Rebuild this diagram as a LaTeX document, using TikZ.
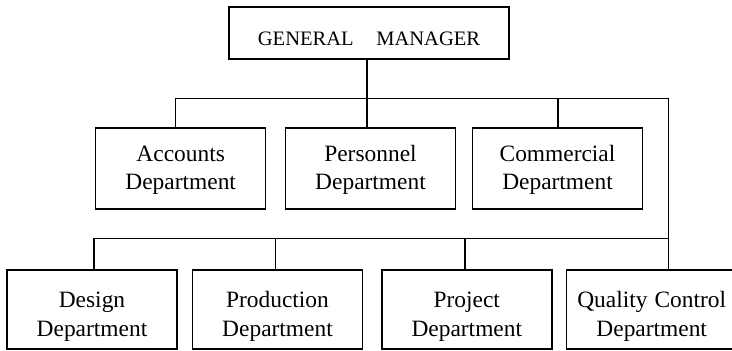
\documentclass[tikz,border=0pt]{standalone}
\usepackage{fontspec}
\setmainfont{Liberation Serif}
\newcommand{\rtwo}{\rule{0pt}{19bp}}
\newcommand{\rthree}{\rule{0pt}{29.5bp}}
\begin{document}
\begin{tikzpicture}[x=1bp,y=-1bp,
  box/.style={draw, line width=1.5bp, rectangle, inner sep=0pt, align=center,
    minimum width=170bp, font=\fontsize{23.5}{28.7}\selectfont},
  rowtwo/.style={box, minimum height=81bp},
  rowthree/.style={box, minimum height=79bp},
  conn/.style={line width=1.5bp}]
\useasboundingbox (0,0) rectangle (732,350);
\clip (0,0) rectangle (732,350);
\node[draw, line width=1.5bp, inner sep=0pt, minimum width=280bp, minimum height=52bp,
  text height=25.4bp, text depth=0pt, font=\fontsize{20.6}{24}\selectfont]
  (gm) at (369,33) {GENERAL\hspace{22.7bp}MANAGER};
\node[rowtwo] (acc) at (180.7,168.5) {\rtwo Accounts\\Department};
\node[rowtwo] (per) at (370.5,168.5) {\rtwo Personnel\\Department};
\node[rowtwo] (com) at (557.5,168.5) {\rtwo Commercial\\Department};
\node[rowthree] (des) at (92,309.5) {\rthree Design\\Department};
\node[rowthree] (pro) at (277.5,309.5) {\rthree Production\\Department};
\node[rowthree] (prj) at (466.8,309.5) {\rthree Project\\Department};
\node[rowthree] (qc) at (651.7,309.5) {\rthree Quality\hspace{7bp}Control\\Department};
\coordinate (tr) at (367,98.7);
\coordinate (b1L) at (175.7,98.7);
\coordinate (b1R) at (668.3,98.7);
\coordinate (c1) at (558,98.7);
\coordinate (b2L) at (94,238.3);
\coordinate (b2R) at (668.3,238.3);
\coordinate (d2) at (275.3,238.3);
\coordinate (d3) at (465,238.3);
\draw[conn] (gm.south -| tr) -- (per.north -| tr);
\draw[conn] (acc.north -| b1L) -- (b1L) -- (b1R) -- (qc.north -| b1R);
\draw[conn] (c1) -- (com.north -| c1);
\draw[conn] (des.north -| b2L) -- (b2L) -- (b2R);
\draw[conn] (d2) -- (pro.north -| d2);
\draw[conn] (d3) -- (prj.north -| d3);
\end{tikzpicture}
\end{document}
